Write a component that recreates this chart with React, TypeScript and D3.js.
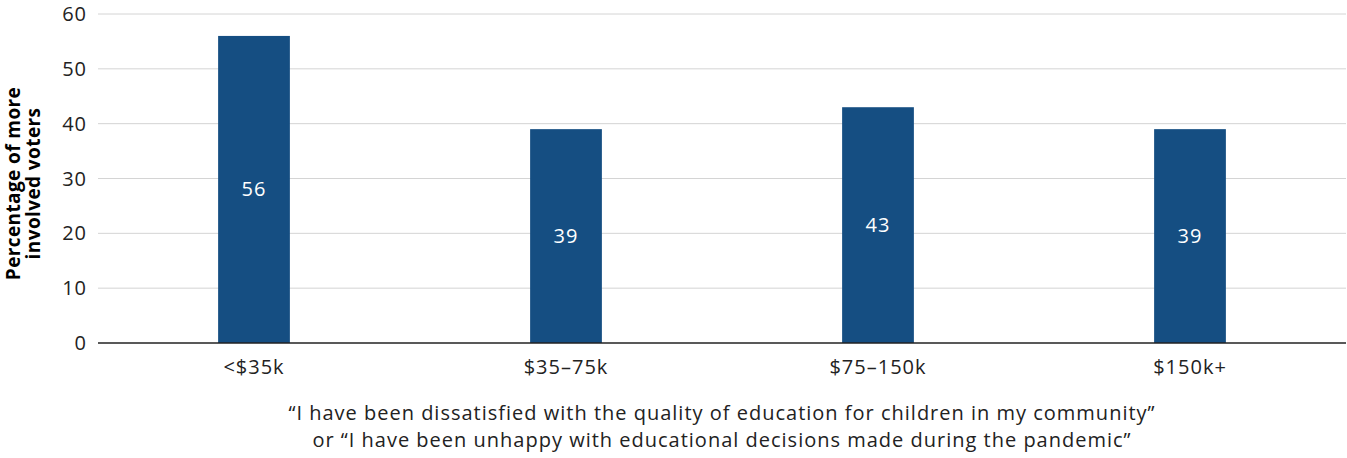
import React from "react";
import * as d3 from "d3";

const categories = ["<$35k", "$35–75k", "$75–150k", "$150k+"];
const values = [56, 39, 43, 39];
const yTicks = [0, 10, 20, 30, 40, 50, 60];
const yTitle = ["Percentage of more", "involved voters"];
const caption = [
  "\u201CI have been dissatisfied with the quality of education for children in my community\u201D",
  "or \u201CI have been unhappy with educational decisions made during the pandemic\u201D",
];

const W = 1347;
const H = 458;
const margin = { left: 98, right: 1, top: 14, bottom: 115 };
const FONT = "'Open Sans', Lato, sans-serif";
const BAR = "#154e82";
const TEXT = "#222";
const SPACING = 1;

export default function App() {
  const x = d3
    .scaleBand<string>()
    .domain(categories)
    .range([margin.left, W - margin.right])
    .paddingInner(0.77)
    .paddingOuter(0.385);
  const y = d3
    .scaleLinear()
    .domain([0, 60])
    .range([H - margin.bottom, margin.top]);

  const plotMid = (margin.left + W - margin.right) / 2;

  return (
    <svg
      width={W}
      height={H}
      style={{ position: "absolute", left: 0, top: 0, display: "block" }}
      fontFamily={FONT}
    >
      <rect width={W} height={H} fill="#fff" />
      {yTicks.map((t) => (
        <g key={t}>
          {t !== 0 && (
            <line
              x1={margin.left}
              x2={W - margin.right}
              y1={y(t)}
              y2={y(t)}
              stroke="#d4d4d4"
              strokeWidth={1}
            />
          )}
          <text
            x={87}
            y={y(t)}
            dy="0.35em"
            textAnchor="end"
            fontSize={20}
            letterSpacing={SPACING}
            fill={TEXT}
          >
            {t}
          </text>
        </g>
      ))}
      {categories.map((c, i) => (
        <g key={c}>
          <rect
            x={x(c)}
            y={y(values[i])}
            width={x.bandwidth()}
            height={y(0) - y(values[i])}
            fill={BAR}
          />
          <text
            x={(x(c) as number) + x.bandwidth() / 2}
            y={y(values[i] / 2)}
            dy="0.35em"
            textAnchor="middle"
            fontSize={20}
            letterSpacing={SPACING}
            fill="#fff"
          >
            {values[i]}
          </text>
          <text
            x={(x(c) as number) + x.bandwidth() / 2}
            y={y(0) + 24}
            dy="0.35em"
            textAnchor="middle"
            fontSize={20}
            letterSpacing={SPACING}
            fill={TEXT}
          >
            {c}
          </text>
        </g>
      ))}
      <line
        x1={margin.left}
        x2={W - margin.right}
        y1={y(0)}
        y2={y(0)}
        stroke="#222"
        strokeWidth={1.5}
      />
      <text
        transform={`translate(0, ${(y(0) + y(60)) / 2 + 5}) rotate(-90)`}
        textAnchor="middle"
        fontSize={19}
        fontWeight="bold"
        letterSpacing={0.4}
        fill="#000"
      >
        <tspan x={0} y={20}>{yTitle[0]}</tspan>
        <tspan x={0} y={40}>{yTitle[1]}</tspan>
      </text>
      {caption.map((line, i) => (
        <text
          key={i}
          x={plotMid}
          y={413 + i * 27}
          dy="0.35em"
          textAnchor="middle"
          fontSize={20}
          letterSpacing={SPACING}
          fill={TEXT}
        >
          {line}
        </text>
      ))}
    </svg>
  );
}
